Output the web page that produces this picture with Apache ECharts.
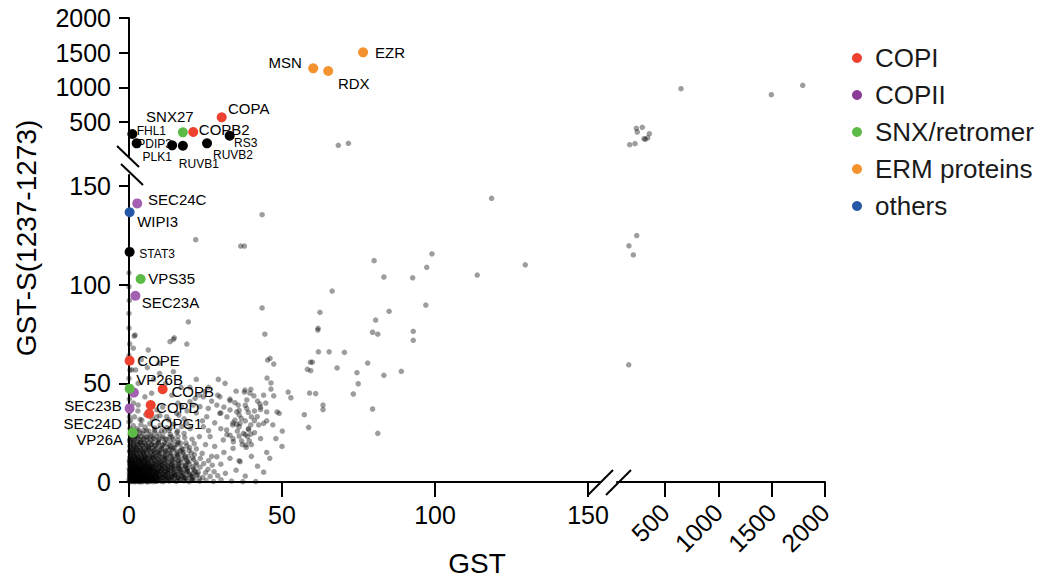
<!DOCTYPE html>
<html><head><meta charset="utf-8">
<script src="https://cdn.jsdelivr.net/npm/echarts@6.0.0/dist/echarts.min.js"></script>
<style>html,body{margin:0;padding:0;background:#fff}#c{width:1043px;height:581px}</style>
</head><body><div id="c"></div>
<script>
// ---------------- DATA ----------------
const xTicksLow = [0, 50, 100, 150];
const xTicksHigh = [500, 1000, 1500, 2000];
const yTicksLow = [0, 50, 100, 150];
const yTicksHigh = [500, 1000, 1500, 2000];
const legendNames = ['COPI', 'COPII', 'SNX/retromer', 'ERM proteins', 'others'];
const xTitle = 'GST';
const yTitle = 'GST-S(1237-1273)';

// [name, GST, GST-S]
const copI = [['COPA',30.3,568],['COPB2',21,356],['COPE',0.2,61.5],['COPB',11,47],['COPD',7.1,39],['COPG1',6.6,34.6]];
const copII = [['SEC24C',2.7,141.2],['SEC23A',2.1,94.4],['SEC23B',1.6,45.3],['SEC24D',0.2,37.3]];
const snxRetromer = [['SNX27',17.6,351],['VPS35',3.8,102.9],['VP26B',0.2,47.3],['VP26A',1.2,25]];
const ermProteins = [['MSN',60.2,1274],['RDX',65.1,1236],['EZR',76.5,1505]];
const othersGroup = [['WIPI3',0.2,136.7]];
const labeledBlack = [['FHL1',1.1,327],['PDIP3',2.5,193],['PLK1',14.1,164],['RUVB1',17.6,158],['RUVB2',25.5,193],['RS3',32.9,302],['STAT3',0.2,116.6]];

// background proteins [GST, GST-S]
const background = [
[0.2,0.4],[0.6,1.1],[1.1,0.3],[1.5,0.9],[2.0,0.2],[2.4,1.3],[2.9,0.6],[3.3,0.1],[3.8,1.0],[4.4,0.4],[4.9,1.4],[5.5,0.7],[6.1,0.2],[6.8,1.2],[7.4,0.5],[8.1,0.9],[8.8,0.3],[9.6,1.1],[10.4,0.6],[11.3,0.2],[12.2,1.3],[13.1,0.5],[14.2,0.9],[15.4,0.3],[16.7,1.2],[18.0,0.6],[19.6,0.2],[21.3,1.0],[23.1,0.4],[25.2,0.8],[27.6,0.3],[30.1,1.1],[33.5,0.5],[37.2,0.2],
[0.3,2.4],[0.9,3.1],[1.4,2.0],[1.9,3.4],[2.5,2.7],[3.1,2.1],[3.6,3.3],[4.2,2.5],[4.8,1.9],[5.4,3.0],[6.0,2.3],[6.7,3.5],[7.3,2.0],[8.0,2.8],[8.7,3.4],[9.4,2.2],[10.2,3.0],[11.0,2.5],[11.9,3.6],[12.8,2.1],[13.8,2.9],[14.9,3.3],[16.1,2.4],[17.3,3.1],[18.8,2.0],[20.4,2.9],[22.0,3.4],[24.1,2.3],[26.5,2.8],[29.0,3.2],
[0.1,4.5],[0.7,5.3],[1.2,4.1],[1.8,5.0],[2.3,4.6],[2.9,5.5],[3.5,4.2],[4.0,5.1],[4.7,4.4],[5.3,5.4],[5.9,4.0],[6.6,4.9],[7.2,5.6],[7.9,4.3],[8.6,5.2],[9.3,4.7],[10.1,5.5],[10.9,4.2],[11.8,5.0],[12.7,4.5],[13.7,5.4],[14.8,4.1],[16.0,5.1],[17.4,4.6],[19.0,5.3],[20.7,4.3],[22.6,5.0],[25.0,4.7],[27.8,5.2],[31.5,4.4],
[0.2,6.4],[0.8,7.2],[1.3,6.0],[1.9,6.9],[2.6,7.5],[3.2,6.3],[3.8,7.0],[4.5,6.1],[5.1,7.4],[5.8,6.6],[6.4,7.1],[7.1,6.2],[7.8,7.6],[8.5,6.8],[9.3,6.0],[10.1,7.3],[10.9,6.5],[11.8,7.0],[12.8,6.2],[13.8,7.4],[14.9,6.7],[16.2,7.2],[17.6,6.3],[19.2,7.0],[21.0,6.6],[23.2,7.5],[25.8,6.4],
[0.3,8.6],[0.9,9.4],[1.5,8.1],[2.1,9.0],[2.8,8.4],[3.4,9.6],[4.1,8.2],[4.7,9.1],[5.4,8.7],[6.1,9.5],[6.8,8.0],[7.5,8.9],[8.3,9.3],[9.1,8.4],[9.9,9.2],[10.8,8.6],[11.7,9.5],[12.7,8.2],[13.8,9.0],[15.0,8.5],[16.4,9.4],[18.0,8.3],[19.8,9.1],[21.9,8.7],[24.4,9.3],[27.2,8.5],
[0.1,10.6],[0.7,11.5],[1.3,10.2],[2.0,11.1],[2.6,12.0],[3.3,10.4],[4.0,11.3],[4.7,10.8],[5.4,11.8],[6.2,10.3],[7.0,11.2],[7.8,12.1],[8.6,10.7],[9.5,11.6],[10.4,10.2],[11.4,11.1],[12.4,11.9],[13.5,10.5],[14.7,11.4],[16.0,10.9],[17.5,11.8],[19.2,10.4],[21.1,11.3],[23.3,12.0],[26.0,10.8],
[0.4,12.8],[1.0,13.9],[1.7,13.2],[2.4,14.4],[3.1,12.6],[3.9,13.6],[4.6,14.2],[5.4,12.9],[6.2,13.8],[7.1,12.5],[8.0,14.0],[8.9,13.1],[9.9,14.5],[10.9,12.7],[12.0,13.5],[13.2,14.3],[14.5,12.9],[15.9,13.7],[17.5,14.4],[19.3,13.0],[21.4,13.9],[23.9,14.5],
[0.2,15.3],[0.9,16.4],[1.6,15.0],[2.3,16.9],[3.1,15.7],[3.9,16.6],[4.7,15.2],[5.6,16.1],[6.5,17.0],[7.4,15.5],[8.4,16.5],[9.4,15.1],[10.5,16.8],[11.7,15.6],[13.0,16.3],[14.4,17.1],[15.9,15.4],[17.6,16.6],[19.6,15.9],[22.0,16.8],
[0.3,18.0],[1.1,19.2],[1.9,17.6],[2.7,18.8],[3.6,19.8],[4.5,18.1],[5.4,19.4],[6.4,17.9],[7.4,19.0],[8.5,18.4],[9.6,19.7],[10.8,18.2],[12.1,19.3],[13.5,17.8],[15.1,18.9],[16.9,19.6],[18.9,18.3],[21.3,19.4],
[0.2,20.8],[1.0,22.1],[1.9,21.0],[2.8,22.7],[3.8,20.6],[4.8,21.9],[5.9,22.9],[7.0,21.3],[8.2,22.4],[9.5,20.9],[10.9,22.2],[12.4,21.5],[14.1,22.8],[16.0,21.1],[18.2,22.5],[20.6,21.7],
[0.4,24.0],[1.3,25.3],[2.3,23.8],[3.4,25.0],[4.5,24.4],[5.7,25.8],[7.0,23.9],[8.4,25.2],[9.9,24.3],[11.6,25.6],[13.5,24.1],[15.6,25.1],[18.0,24.6],
[0.3,27.2],[1.4,28.6],[2.6,27.0],[3.9,29.1],[5.3,27.8],[6.8,29.6],[8.4,27.4],[10.2,28.8],[12.3,27.6],[14.6,29.3],[17.2,28.1],
[0.5,31.2],[1.8,33.0],[3.6,31.8],[5.5,34.2],[7.6,32.1],[10.1,33.6],[13.0,31.5],[16.3,33.9],[0.2,35.5],[2.9,36.0],[6.3,35.8],
[0.5,1.6],[1.3,1.9],[2.2,1.5],[3.0,1.8],[4.0,1.6],[5.0,2.0],[6.0,1.5],[7.0,1.9],[8.1,1.6],[9.2,1.8],[10.5,1.5],[11.8,1.9],[13.3,1.6],[14.9,1.8],[16.6,1.5],[18.5,1.9],[20.6,1.4],[23.0,1.7],
[0.4,3.9],[1.1,3.6],[1.9,4.0],[2.7,3.7],[3.6,3.9],[4.5,3.6],[5.5,4.0],[6.5,3.8],[7.6,3.7],[8.7,4.0],[9.9,3.8],[11.2,3.6],[12.6,4.0],[14.1,3.7],[15.8,3.9],[17.7,3.6],[19.9,4.0],[22.4,3.8],
[0.4,5.9],[1.2,5.7],[2.0,6.0],[2.9,5.8],[3.8,5.6],[4.8,5.9],[5.8,5.8],[6.9,6.0],[8.0,5.7],[9.2,5.9],[10.5,5.8],[11.9,5.6],[13.4,6.0],[15.1,5.8],[17.0,5.9],[19.1,5.7],[21.5,5.9],
[0.5,7.9],[1.3,7.7],[2.2,8.0],[3.1,7.8],[4.1,7.6],[5.1,8.0],[6.2,7.8],[7.3,7.9],[8.5,7.7],[9.8,8.0],[11.2,7.8],[12.7,7.6],[14.4,7.9],[16.3,7.8],[18.4,8.0],[20.8,7.7],
[0.4,10.0],[1.2,9.8],[2.1,10.1],[3.0,9.9],[4.0,9.7],[5.1,10.1],[6.2,9.9],[7.4,10.0],[8.7,9.8],[10.1,10.1],[11.6,9.9],[13.2,9.7],[15.0,10.0],[17.0,9.9],[19.3,10.1],[22.0,9.8],
[0.3,12.4],[1.2,12.2],[2.1,12.5],[3.1,12.3],[4.2,12.1],[5.3,12.4],[6.5,12.3],[7.8,12.5],[9.2,12.2],[10.7,12.4],[12.3,12.3],[14.1,12.1],[16.1,12.5],[18.3,12.3],[20.8,12.2],
[0.5,14.9],[1.4,14.7],[2.4,15.0],[3.5,14.8],[4.6,14.6],[5.8,15.0],[7.1,14.8],[8.5,14.9],[10.0,14.7],[11.7,15.0],[13.5,14.8],[15.5,14.6],[17.8,15.0],[20.4,14.8],
[0.6,17.4],[1.5,17.2],[2.6,17.5],[3.7,17.3],[4.9,17.1],[6.2,17.5],[7.6,17.3],[9.1,17.4],[10.8,17.2],[12.7,17.5],[14.8,17.3],[17.2,17.1],[19.8,17.4],
[0.5,20.1],[1.5,19.9],[2.6,20.2],[3.8,20.0],[5.1,19.8],[6.5,20.2],[8.0,20.0],[9.7,20.1],[11.6,19.9],[13.7,20.2],[16.0,20.0],[18.6,19.8],
[0.6,23.1],[1.7,22.9],[2.9,23.2],[4.2,23.0],[5.7,22.8],[7.3,23.2],[9.1,23.0],[11.1,23.1],[13.4,22.9],[16.0,23.2],
[0.5,26.1],[1.8,25.9],[3.2,26.2],[4.8,26.0],[6.5,25.8],[8.4,26.2],[10.6,26.0],[13.1,26.1],[15.9,25.9],
[0.1,0.9],[0.9,0.7],[1.8,1.0],[2.7,0.8],[3.6,0.6],[4.6,1.0],[5.7,0.8],[6.8,0.7],[8.0,1.0],[9.3,0.8],[10.7,0.6],[12.2,1.0],[13.9,0.8],[15.8,0.7],[18.0,1.0],[20.5,0.8],
[0.6,2.3],[1.5,2.5],[2.4,2.2],[3.4,2.4],[4.4,2.2],[5.5,2.5],[6.6,2.3],[7.8,2.2],[9.1,2.5],[10.6,2.3],[12.2,2.2],[14.0,2.5],[16.0,2.3],[18.2,2.4],[20.8,2.2],
[0.2,3.2],[1.0,3.0],[1.9,3.3],[2.9,3.1],[3.9,2.9],[5.0,3.3],[6.1,3.1],[7.3,3.2],[8.6,3.0],[10.0,3.3],[11.6,3.1],[13.3,2.9],[15.2,3.2],[17.4,3.0],[19.9,3.3],
[0.4,5.0],[1.3,4.8],[2.3,5.1],[3.3,4.9],[4.4,4.7],[5.5,5.1],[6.7,4.9],[8.0,5.0],[9.4,4.8],[10.9,5.1],[12.6,4.9],[14.5,4.7],[16.6,5.0],[18.9,4.9],[21.6,5.1],
[0.1,6.8],[1.0,6.6],[2.0,6.9],[3.0,6.7],[4.1,6.5],[5.3,6.9],[6.5,6.7],[7.8,6.8],[9.2,6.6],[10.8,6.9],[12.5,6.7],[14.4,6.5],[16.5,6.8],[18.9,6.7],
[0.6,8.5],[1.6,8.3],[2.6,8.6],[3.7,8.4],[4.9,8.2],[6.1,8.6],[7.4,8.4],[8.8,8.5],[10.4,8.3],[12.1,8.6],[14.0,8.4],[16.1,8.2],[18.5,8.5],
[0.2,10.9],[1.1,10.7],[2.1,11.0],[3.2,10.8],[4.4,10.6],[5.7,11.0],[7.1,10.8],[8.6,10.9],[10.2,10.7],[12.0,11.0],[14.0,10.8],[16.3,10.6],[18.8,10.9],
[0.5,13.3],[1.5,13.1],[2.6,13.4],[3.8,13.2],[5.1,13.0],[6.5,13.4],[8.0,13.2],[9.7,13.3],[11.5,13.1],[13.6,13.4],[15.9,13.2],[18.4,13.0],
[0.2,16.0],[1.2,15.8],[2.4,16.1],[3.7,15.9],[5.1,15.7],[6.6,16.1],[8.2,15.9],[10.0,16.0],[12.0,15.8],[14.3,16.1],[16.8,15.9],
[0.4,18.8],[1.5,18.6],[2.8,18.9],[4.2,18.7],[5.7,18.5],[7.3,18.9],[9.1,18.7],[11.1,18.8],[13.4,18.6],[15.9,18.9],
[0.3,21.7],[1.5,21.5],[2.9,21.8],[4.4,21.6],[6.0,21.4],[7.8,21.8],[9.8,21.6],[12.0,21.7],[14.5,21.5],
[0.3,0.1],[1.0,0.5],[1.7,0.2],[2.5,0.5],[3.3,0.3],[4.2,0.1],[5.1,0.4],[6.0,0.1],[7.0,0.4],[8.1,0.2],[9.2,0.5],
[0.1,1.4],[0.8,1.6],[1.6,1.3],[2.4,1.7],[3.3,1.4],[4.2,1.2],[5.2,1.6],[6.3,1.3],[7.5,1.7],[8.7,1.4],
[0.2,2.8],[1.1,2.6],[2.0,2.9],[3.0,2.7],[4.0,2.5],[5.1,2.9],[6.3,2.7],[7.6,2.8],[9.0,2.6],
[0.5,4.2],[1.5,4.4],[2.6,4.1],[3.7,4.5],[4.9,4.2],[6.2,4.3],[7.6,4.1],[9.1,4.4],
[0.3,5.6],[1.3,6.2],[2.4,5.7],[3.6,6.3],[4.9,5.5],[6.3,6.1],[7.8,5.6],
[0.6,7.4],[1.7,7.1],[2.9,7.5],[4.2,7.2],[5.6,7.6],[7.1,7.3],
[0.2,9.1],[1.4,9.5],[2.7,9.2],[4.1,9.6],[5.6,9.3],
[0.8,11.3],[2.2,11.7],[3.7,11.4],[5.2,11.8],
[0,38.5],[0.1,42],[0,52.5],[0.3,56.8],[0,64],[0.9,56.8],[1.4,67.8],[2,74.5],[0,78],[0,85.5],[0.1,92],[0,99],[0,106],[0.2,70],[0,30.5],[0.1,33],
[1.7,74],[18.9,69.9],[13.4,71.1],[6.3,66.9],[2.2,56.8],[9.8,60.2],[14.5,55.9],[29.2,52],[31.4,50],[19.9,48],[7.4,45],[5.2,43.2],[19.9,40.7],[23.2,38.2],[25.9,37.3],[28.7,39],[25.4,33.1],[29.7,34.8],[33,36.5],[36.3,29.7],[31.9,26.4],[36.3,10.3],[28.7,12.8],[37.4,24.7],[34.1,20.4],[30.8,21.3],[26.5,23],[24.3,28],[37.9,46.6],[39.5,45],[38.5,41.6],[35.7,39],[29.7,43.2],[24.8,45.8],[24.3,43.2],[21.6,42.4],[17.2,38.2],[15.6,34.8],[18.9,29.7],[12.3,33.1],[9.1,36.5],[4.2,31.4],[3,39],[13.4,27.2],
[44.4,74.9],[61.7,77],[79.6,75.9],[81.3,74.9],[46.1,62.7],[45.3,61.8],[47.3,59.8],[61.9,66],[65.4,66],[70.4,65.7],[59.3,60.7],[59.9,60.7],[58.3,57.1],[59.4,56.4],[68,57.8],[78,60.3],[74.5,55.4],[74.9,49.8],[73.3,44.6],[45.1,52.7],[46.4,50.2],[46.4,47.1],[47.3,43.7],[39.8,47],[37.7,45.6],[40.8,43.7],[52,45.6],[52.9,42.7],[59,45.1],[61,44.8],[63.4,39],[63.4,36.7],[79.6,37],[81.3,24.7],[57.3,34.1],[58.7,27.7],[50.1,25.8],[48.4,35.5],[49.1,34.8],[44.7,40],[42.8,39.5],[43,36.7],[45,35.5],[44,29.7],[41.9,33.1],[41,31.1],[42.4,28.9],[39.8,28.9],[39.1,26.5],[39.8,24.3],[38.7,23],[39.3,20.9],[38.2,18.8],[38.3,17.6],[36.8,20.9],[36,10.8],[41.4,0.3],[34.6,40.2],[33,41.2],[38,38.9],[38.5,37.2],[39,35.3],[36,36.3],[35.2,35.5],[36.7,32.3],[34.6,31.4],[35.2,29.2],[35.4,25.8],[36,23.3],[33,23.7],[33.9,28.9],
[118.5,143.8],[80.1,112.2],[83.3,103.9],[92.7,103.5],[97.3,108.8],[99,115.6],[113.8,104.9],[129.5,110.1],[85,86.5],[80.6,82.1],[97,89.7],[92.9,76.4],[92.9,71.8],[83.3,54.1],[89,56.1],
[43.5,135.5],[21.8,122.8],[36.5,119.6],[37.7,119.6],[66.4,96.8],[43.5,88.2],[62.4,86],[19.4,81.1],[61.8,77.9],[14.5,72.3],[14.8,73.1],
[27,41],[29,44],[31,38],[33,42],[35,46],[30,35],[32,33],[34,30],[36,34],[38,31],[40,33],[41,36],[42,41],[44,44],[43,38],[45,31],[47,29],[39,27],[41,25],[43,22],[37,19],[34,17],[31,15],[28,18],[26,26],[24,31],[22,35],[21,39],[23,44],[26,48],[28,30],[30,27],[32,24],[34,22],[36,28],[38,24],[40,19],[33,12],[30,9],[35,6],[38,3],[42,8],[45,15],[48,22],[50,18],[46,12],[44,5],[40,13],[27,13],[25,19],[23,23],[20,27],[18,32],[19,36],[16,40],[14,44],[17,48],[22,52],[12,50],[10,55],[8,52],[6,58],[4,62],[3,50],[2,45],[1.5,40],[11,38],[9,33],
[68.4,164],[71.7,193],
[169,173],[219,187],[231,409],[240,356],[287,424],[303,259],[315,250],[338,273],[353,331],[650,980],[1497,894],[1791,1029],
[160,59.4],[162,119.7],[203,115.1],[235,124.9]
];

// ---------------- STYLE / LAYOUT ----------------
const FONT = '"Liberation Sans", Arial, Helvetica, sans-serif';
const colors = {'COPI':'#ee4130','COPII':'#a35fb0','SNX/retromer':'#5cbb46','ERM proteins':'#f4922f','others':'#2458a6','labeled':'#000000'};
const legendColors = {'COPI':'#ee4130','COPII':'#8a3a97','SNX/retromer':'#5cbb46','ERM proteins':'#f4922f','others':'#2458a6'};
// label placement: offset of label centre from point centre (px)
const labelOffsets = {
  COPA:[27,-9], COPB2:[31,-3], COPE:[29,0], COPB:[30,2], COPD:[27,2], COPG1:[27,9.5],
  SEC24C:[40,-4], SEC23A:[35,7], SEC23B:[-41,13.3], SEC24D:[-37,14.8],
  SNX27:[-13,-16], VPS35:[31,0], VP26B:[30,-9], VP26A:[-33,7.3],
  MSN:[-28,-6], RDX:[25.5,12.5], EZR:[27,0], WIPI3:[28,9.7],
  FHL1:[19,-3.5], PDIP3:[18,0.5], PLK1:[-15,11.7], RUVB1:[16,18.5], RUVB2:[26,12], RS3:[16,6.8], STAT3:[27.5,2]
};
const smallLabelSize = {FHL1:12,PDIP3:12,PLK1:12,RUVB1:12,RUVB2:12,RS3:12,STAT3:12};

// grids: 0 lower-left, 1 lower-right, 2 upper-left, 3 upper-right
const X_SPLIT = 152, Y_SPLIT = 155;
function gridOf(x, y) { return (x > X_SPLIT ? 1 : 0) + (y > Y_SPLIT ? 2 : 0); }

const grids = [
  {left:129, top:175, width:471.24, height:307},
  {left:617, top:175, width:208, height:307},
  {left:129, top:18, width:471.24, height:138},
  {left:617, top:18, width:208, height:138}
];
const xRanges = [[0,154],[50,2000],[0,154],[50,2000]];
const yRanges = [[0,155.6],[0,155.6],[10,2000],[10,2000]];

const plain = v => String(v);
const axisLineStyle = {color:'#000', width:2};
const xAxes = [0,1,2,3].map(i => {
  const visible = (i === 0 || i === 1);
  const ticks = i === 0 ? xTicksLow : xTicksHigh;
  return {
    type:'value', gridIndex:i, min:xRanges[i][0], max:xRanges[i][1], show:visible,
    splitLine:{show:false},
    axisLine:{show:true, onZero:false, lineStyle:axisLineStyle},
    axisTick:{show:true, length:15, lineStyle:{color:'#000', width:2}, customValues:ticks},
    axisLabel:{show:true, customValues:ticks, formatter:plain, color:'#000', fontSize:25, fontFamily:FONT,
      margin: i === 1 ? 26 : 20, rotate: i === 1 ? 45 : 0}
  };
});
const yAxes = [0,1,2,3].map(i => {
  const visible = (i === 0 || i === 2);
  const ticks = i === 0 ? yTicksLow : yTicksHigh;
  return {
    type:'value', gridIndex:i, min:yRanges[i][0], max:yRanges[i][1], show:visible,
    splitLine:{show:false},
    axisLine:{show:true, onZero:false, lineStyle:axisLineStyle},
    axisTick:{show:true, length:10, lineStyle:{color:'#000', width:2}, customValues:ticks},
    axisLabel:{show:true, customValues:ticks, formatter:plain, color:'#000', fontSize:25, lineHeight:19, fontFamily:FONT, margin:18}
  };
});

const series = [];
// background
[0,1,2,3].forEach(g => {
  series.push({
    type:'scatter', name:'background', xAxisIndex:g, yAxisIndex:g, silent:true, z:2,
    symbolSize:5.5, itemStyle:{color:'rgba(0,0,0,0.48)'},
    data: background.filter(p => gridOf(p[0], p[1]) === g)
  });
});
function addGroup(name, rows) {
  [0,1,2,3].forEach(g => {
    const pts = rows.filter(r => gridOf(r[1], r[2]) === g);
    if (!pts.length) return;
    series.push({
      type:'scatter', name:name, xAxisIndex:g, yAxisIndex:g, z:4, silent:true,
      symbolSize:10, itemStyle:{color:colors[name], opacity:1},
      label:{show:true, position:'inside', formatter:'{b}', color:'#000', fontFamily:FONT, fontSize:15, lineHeight:12, textBorderWidth:0},
      data: pts.map(r => {
        const fs = smallLabelSize[r[0]] || 15;
        return {name:r[0], value:[r[1], r[2]],
          label:{offset:labelOffsets[r[0]] || [0,0], fontSize:fs, lineHeight:Math.round(fs * 0.8)}};
      })
    });
  });
}
addGroup('labeled', labeledBlack);
addGroup('COPI', copI);
addGroup('COPII', copII);
addGroup('SNX/retromer', snxRetromer);
addGroup('ERM proteins', ermProteins);
addGroup('others', othersGroup);

const option = {
  animation:false,
  backgroundColor:'#fff',
  grid: grids.map(g => Object.assign({containLabel:false, outerBoundsMode:'none'}, g)),
  xAxis: xAxes,
  yAxis: yAxes,
  legend: {
    orient:'vertical', left:852, top:45, padding:0, itemGap:11,
    itemWidth:26, itemHeight:10, icon:'circle', selectedMode:false,
    textStyle:{fontSize:26, fontFamily:FONT, color:'#1a1a1a', lineHeight:26},
    data: legendNames.map(n => ({name:n, itemStyle:{color:legendColors[n]}}))
  },
  graphic: [
    {type:'line', shape:{x1:588,y1:495,x2:613,y2:470}, style:{stroke:'#000', lineWidth:2}, z:10},
    {type:'line', shape:{x1:606,y1:495,x2:631,y2:470}, style:{stroke:'#000', lineWidth:2}, z:10},
    {type:'line', shape:{x1:117,y1:146,x2:139,y2:167}, style:{stroke:'#000', lineWidth:2}, z:10},
    {type:'line', shape:{x1:121,y1:164,x2:143,y2:185}, style:{stroke:'#000', lineWidth:2}, z:10},
    {type:'text', x:26, y:238, rotation:Math.PI/2,
      style:{text:yTitle, fontSize:28, fontFamily:FONT, fill:'#000', align:'center', verticalAlign:'middle'}},
    {type:'text', x:477, y:563,
      style:{text:xTitle, fontSize:28, fontFamily:FONT, fill:'#000', align:'center', verticalAlign:'middle'}}
  ],
  series: series
};
const chart = echarts.init(document.getElementById('c'), null, {renderer:'svg'});
chart.setOption(option);
</script>
</body></html>
